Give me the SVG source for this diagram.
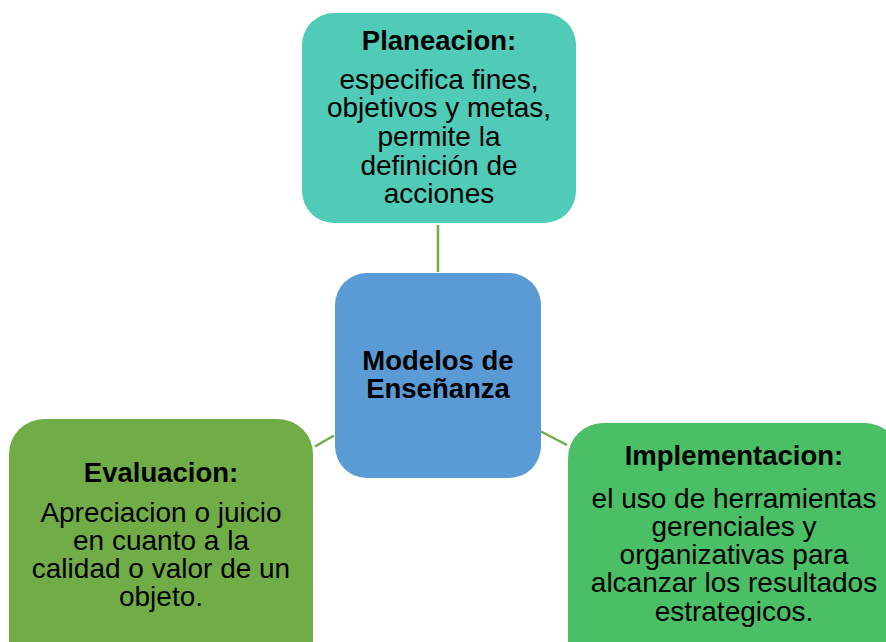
<svg xmlns="http://www.w3.org/2000/svg" width="886" height="642" viewBox="0 0 886 642">
<style>
.t{font-family:"Liberation Sans",Arial,sans-serif;font-size:28px;fill:#000;text-anchor:middle}
.b{font-weight:bold;font-size:27.5px}
.c{stroke:#70AD47;stroke-width:2.5;fill:none}
</style>
<rect width="886" height="642" fill="#fff"/>
<g id="connectors">
<line class="c" x1="438" y1="225" x2="438" y2="272"/>
<line class="c" x1="315" y1="446.5" x2="334" y2="435.5"/>
<line class="c" x1="541" y1="431.5" x2="567" y2="445"/>
</g>
<g id="planeacion">
<rect x="302" y="13" width="274" height="210" rx="32" fill="#50CBB7"/>
<text class="t b" x="439" y="49.5">Planeacion:</text>
<text class="t" x="439" y="88.5">especifica fines,</text>
<text class="t" x="439" y="117.2">objetivos y metas,</text>
<text class="t" x="439" y="146">permite la</text>
<text class="t" x="439" y="174.7">definición de</text>
<text class="t" x="439" y="203.4">acciones</text>
</g>
<g id="modelos">
<rect x="335" y="273" width="206" height="205" rx="32" fill="#5B9BD5"/>
<text class="t b" x="438" y="370">Modelos de</text>
<text class="t b" x="438" y="398">Enseñanza</text>
</g>
<g id="evaluacion">
<rect x="9" y="419" width="304" height="260" rx="35" fill="#70AD47"/>
<text class="t b" x="161" y="482">Evaluacion:</text>
<text class="t" x="161" y="521.5">Apreciacion o juicio</text>
<text class="t" x="161" y="549.8">en cuanto a la</text>
<text class="t" x="161" y="578.1">calidad o valor de un</text>
<text class="t" x="161" y="606.4">objeto.</text>
</g>
<g id="implementacion">
<rect x="568" y="423" width="332" height="260" rx="35" fill="#4BBF65"/>
<text class="t b" x="734" y="465">Implementacion:</text>
<text class="t" x="734" y="507.5">el uso de herramientas</text>
<text class="t" x="734" y="535.8">gerenciales y</text>
<text class="t" x="734" y="564">organizativas para</text>
<text class="t" x="734" y="592.3">alcanzar los resultados</text>
<text class="t" x="734" y="620.6">estrategicos.</text>
</g>
</svg>
